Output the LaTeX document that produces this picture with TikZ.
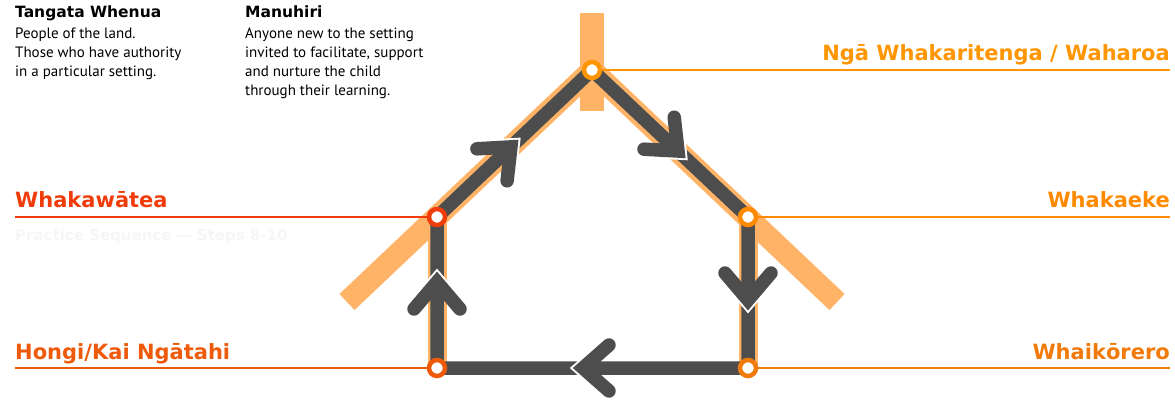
\documentclass[tikz,border=0pt]{standalone}
\usepackage{fontspec}
\setmainfont{PT Sans}
\newfontfamily\headfont{DejaVu Sans}
\usetikzlibrary{arrows.meta}

\definecolor{bandcol}{HTML}{FFB366}
\definecolor{trackcol}{HTML}{4D4D4D}
\definecolor{ateacol}{HTML}{F03C0A}
\definecolor{hongicol}{HTML}{EE5A0A}
\definecolor{wahacol}{HTML}{FF9500}
\definecolor{ekecol}{HTML}{FF8A00}
\definecolor{korerocol}{HTML}{F07A0A}
\definecolor{faintcol}{HTML}{F6F6F6}

\tikzset{
  station/.style={circle,draw=#1,fill=white,line width=4.5pt,minimum size=16pt,inner sep=0pt},
  guide/.style={draw=#1,line width=2.5pt},
  tag/.style={text=#1,inner sep=0pt,font=\headfont\bfseries\fontsize{21}{25}\selectfont},
  roofband/.style={bandcol,line width=22pt,line join=miter},
  wallband/.style={bandcol,line width=19pt},
  track/.style={trackcol,line width=13.5pt,line join=miter},
  chev/.style={trackcol,line width=13.5pt,line cap=round,line join=miter},
  chevgap/.style={white,line width=13.5pt,line cap=round,line join=miter},
  headtext/.style={inner sep=0pt,font=\headfont\bfseries\fontsize{15.5}{18}\selectfont},
  bodytext/.style={inner sep=0pt,align=left,font=\fontsize{15}{19}\selectfont}
}

\begin{document}
\begin{tikzpicture}[x=1pt,y=-1pt]

    \useasboundingbox (0,0) rectangle (1175,405);

    % corners of the house
    \coordinate (hongi) at (437,368);
    \coordinate (atea) at (437,217);
    \coordinate (apex) at (592,70);
    \coordinate (eke) at (748,217);
    \coordinate (korero) at (748,368);

    %%%%%%%%%%%%%%%%%%%%%%%%%%%%%%%%%%%%%%%%%%%%%%%%%%%%%%

    % roof and walls (light band)
    \coordinate (roofL) at (347,302);
    \coordinate (roofR) at (837,302);
    \coordinate (postT) at (592,13);
    \coordinate (postB) at (592,111);
    \draw[bandcol,line width=24pt] (postT) -- (postB);
    \draw[roofband] (roofL) -- (apex) -- (roofR);
    \draw[wallband] (atea) -- (hongi);
    \draw[wallband] (eke) -- (korero);

    % the track round the house
    \draw[track] (hongi) -- (atea) -- (apex) -- (eke) -- (korero) -- cycle;

    %%%%%%%%%%%%%%%%%%%%%%%%%%%%%%%%%%%%%%%%%%%%%%%%%%%%%%

    % label lines
    \coordinate (atea-end) at (15,217);
    \coordinate (hongi-end) at (15,368);
    \coordinate (waha-end) at (1170,70);
    \coordinate (eke-end) at (1170,217);
    \coordinate (korero-end) at (1170,368);
    \draw[guide=ateacol] (atea) -- (atea-end);
    \draw[guide=hongicol] (hongi) -- (hongi-end);
    \draw[guide=wahacol] (apex) -- (waha-end);
    \draw[guide=ekecol] (eke) -- (eke-end);
    \draw[guide=korerocol] (korero) -- (korero-end);

    %%%%%%%%%%%%%%%%%%%%%%%%%%%%%%%%%%%%%%%%%%%%%%%%%%%%%%

    % chevrons (white gap first, then the arrow)
    \draw[chevgap,shift={(0,-3)}] (414,309) -- (437,282) -- (460,309);
    \draw[chev] (414,309) -- (437,282) -- (460,309);

    \draw[chevgap,shift={(2.2,-2.1)}] (507.1,180.8) -- (510.9,146.9) -- (476.9,148.8);
    \draw[chev] (507.1,180.8) -- (510.9,146.9) -- (476.9,148.8);

    \draw[chevgap,shift={(2.2,2.1)}] (644,149.2) -- (678,151) -- (674.2,117.2);
    \draw[chev] (644,149.2) -- (678,151) -- (674.2,117.2);

    \draw[chevgap,shift={(0,3)}] (725,273) -- (748,300) -- (771,273);
    \draw[chev] (725,273) -- (748,300) -- (771,273);

    \draw[chevgap,shift={(-3,0)}] (609,345) -- (583,368) -- (609,391);
    \draw[chev] (609,345) -- (583,368) -- (609,391);

    %%%%%%%%%%%%%%%%%%%%%%%%%%%%%%%%%%%%%%%%%%%%%%%%%%%%%%

    % stations
    \node[station=hongicol] (hongi-stn) at (hongi) {};
    \node[station=ateacol] (atea-stn) at (atea) {};
    \node[station=wahacol] (waha-stn) at (apex) {};
    \node[station=ekecol] (eke-stn) at (eke) {};
    \node[station=korerocol] (korero-stn) at (korero) {};

    % station names
    \node[tag=ateacol,anchor=base west] (atea-tag) at (15,207) {Whakawātea};
    \node[tag=faintcol,anchor=base west,font=\headfont\bfseries\fontsize{15}{18}\selectfont] (atea-sub) at (15,240) {Practice Sequence — Steps 8-10};
    \node[tag=hongicol,anchor=base west] (hongi-tag) at (15,359) {Hongi/Kai Ngātahi};
    \node[tag=wahacol,anchor=base east] (waha-tag) at (1170,60) {Ngā Whakaritenga / Waharoa};
    \node[tag=ekecol,anchor=base east] (eke-tag) at (1170,207) {Whakaeke};
    \node[tag=korerocol,anchor=base east] (korero-tag) at (1170,359) {Whaikōrero};

    %%%%%%%%%%%%%%%%%%%%%%%%%%%%%%%%%%%%%%%%%%%%%%%%%%%%%%

    % hosts and visitors
    \node[headtext,anchor=base west] (tw-head) at (15,17) {Tangata Whenua};
    \node[bodytext,anchor=north west] (tw-text) at (15,27.5) {People of the land.\\Those who have authority\\in a particular setting.};

    \node[headtext,anchor=base west] (mh-head) at (245,17) {Manuhiri};
    \node[bodytext,anchor=north west] (mh-text) at (245,27.5) {Anyone new to the setting\\invited to facilitate, support\\and nurture the child\\through their learning.};

\end{tikzpicture}
\end{document}
